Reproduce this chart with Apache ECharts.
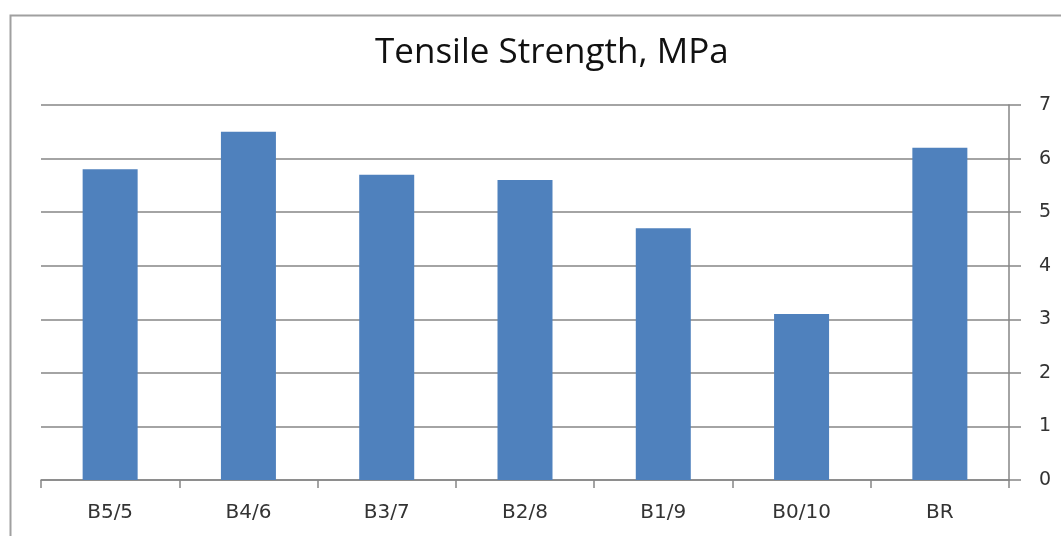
<!DOCTYPE html>
<html><head><meta charset="utf-8">
<script src="https://cdn.jsdelivr.net/npm/echarts@6/dist/echarts.min.js"></script>
<style>html,body{margin:0;padding:0;background:#fff}#c{width:1061px;height:536px}</style>
</head><body><div id="c"></div>
<script>
var categories = ['B5/5','B4/6','B3/7','B2/8','B1/9','B0/10','BR'];
var values = [5.8, 6.5, 5.7, 5.6, 4.7, 3.1, 6.2];
var titleText = 'Tensile Strength, MPa';
var chart = echarts.init(document.getElementById('c'));
chart.setOption({
  animation: false,
  backgroundColor: '#fff',
  title: {
    text: titleText, left: 370, top: 31,
    textStyle: {fontFamily: 'Open Sans', fontSize: 35, fontWeight: 'normal', color: '#111'}
  },
  graphic: [{type: 'rect', shape: {x: 10.5, y: 15.5, width: 1100, height: 600},
    style: {fill: 'none', stroke: '#a0a0a0', lineWidth: 2}, silent: true}],
  grid: {left: 41, right: 52, top: 105, bottom: 56},
  xAxis: {
    type: 'category', data: categories,
    axisLine: {lineStyle: {color: '#868686', width: 1.5}},
    axisTick: {show: true, length: 8, alignWithLabel: false, lineStyle: {color: '#868686', width: 1.5}},
    axisLabel: {margin: 23, fontFamily: 'DejaVu Sans', fontSize: 20, color: '#333'}
  },
  yAxis: {
    type: 'value', position: 'right', min: 0, max: 7, interval: 1,
    axisLine: {show: true, lineStyle: {color: '#868686', width: 1.5}},
    axisTick: {show: true, length: 12, lineStyle: {color: '#868686', width: 1.5}},
    splitLine: {show: true, lineStyle: {color: '#868686', width: 1.5}},
    axisLabel: {margin: 30, fontFamily: 'DejaVu Sans', fontSize: 19, color: '#333'}
  },
  series: [{type: 'bar', data: values, barWidth: 55, itemStyle: {color: '#4F81BD'}}]
});
</script></body></html>
